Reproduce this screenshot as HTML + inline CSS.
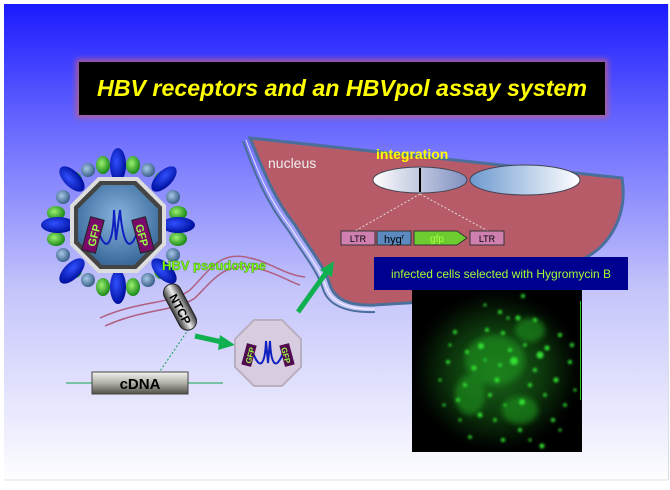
<!DOCTYPE html>
<html><head><meta charset="utf-8"><style>
html,body{margin:0;padding:0;width:670px;height:490px;overflow:hidden;background:#fff;font-family:"Liberation Sans",sans-serif}
</style></head><body>
<svg width="670" height="490" viewBox="0 0 670 490" xmlns="http://www.w3.org/2000/svg">
<defs>
<linearGradient id="bg" x1="0" y1="0" x2="0" y2="1">
<stop offset="0" stop-color="#1a1aff"/><stop offset="0.25" stop-color="#6666ff"/><stop offset="0.6" stop-color="#c4c4fb"/><stop offset="1" stop-color="#fdfdff"/></linearGradient>
<filter id="glow" x="-10%" y="-30%" width="120%" height="160%"><feGaussianBlur stdDeviation="3"/></filter>
<filter id="blur1"><feGaussianBlur stdDeviation="1.2"/></filter>
<filter id="blur3"><feGaussianBlur stdDeviation="3"/></filter>
<linearGradient id="ell1" x1="0" y1="0" x2="1" y2="0"><stop offset="0" stop-color="#fff"/><stop offset="1" stop-color="#7f8fc0"/></linearGradient>
<linearGradient id="ell2" x1="0" y1="0" x2="1" y2="0"><stop offset="0" stop-color="#6e9ad0"/><stop offset="1" stop-color="#fff"/></linearGradient>
<radialGradient id="oct" cx="0.5" cy="0.4" r="0.6"><stop offset="0" stop-color="#8ab4e0"/><stop offset="1" stop-color="#3a6a9a"/></radialGradient>
<radialGradient id="blueE" cx="0.4" cy="0.4" r="0.6"><stop offset="0" stop-color="#3050ff"/><stop offset="1" stop-color="#0010a0"/></radialGradient>
<radialGradient id="greenE" cx="0.4" cy="0.4" r="0.6"><stop offset="0" stop-color="#9cf070"/><stop offset="1" stop-color="#1a8a1a"/></radialGradient>
<radialGradient id="sph" cx="0.4" cy="0.4" r="0.6"><stop offset="0" stop-color="#a8c8e8"/><stop offset="1" stop-color="#3a6088"/></radialGradient>
<linearGradient id="cdna" x1="0" y1="0" x2="0" y2="1"><stop offset="0" stop-color="#f4f4f0"/><stop offset="0.5" stop-color="#b0b0a8"/><stop offset="1" stop-color="#505048"/></linearGradient>
<linearGradient id="ntcp" x1="0" y1="0" x2="0" y2="1"><stop offset="0" stop-color="#333"/><stop offset="0.5" stop-color="#eee"/><stop offset="1" stop-color="#333"/></linearGradient>
<radialGradient id="cells" cx="0.5" cy="0.5" r="0.5"><stop offset="0" stop-color="#1c6a1c"/><stop offset="0.55" stop-color="#0c360c"/><stop offset="0.9" stop-color="#020802"/><stop offset="1" stop-color="#000"/></radialGradient>
</defs>
<rect x="0" y="0" width="670" height="490" fill="#fff"/>
<rect x="4" y="4" width="664" height="475" fill="url(#bg)"/>
<line x1="4" y1="480" x2="668" y2="480" stroke="#ddd"/>
<line x1="668.5" y1="4" x2="668.5" y2="480" stroke="#ddd"/>
<!-- title -->
<rect x="76" y="59" width="532" height="59" fill="#c06080" opacity="0.8" filter="url(#glow)"/>
<rect x="79" y="62" width="526" height="53" fill="#000"/>
<text x="342" y="96" text-anchor="middle" font-size="23" font-style="italic" font-weight="bold" fill="#ffff00" textLength="490" lengthAdjust="spacingAndGlyphs">HBV receptors and an HBVpol assay system</text>
<!-- nucleus -->
<path d="M250,138 L622,178 C628,215 610,245 585,258 C560,272 540,285 510,292 C470,300 420,302 375,305 C350,306 335,300 330,285 C324,265 310,250 295,225 C275,200 265,175 250,138 Z" fill="#b85b68" stroke="#4a6f9a" stroke-width="3"/>
<path d="M246,140 C260,178 271,202 291,228 C306,252 320,268 326,287 C331,302 348,310 375,309" fill="none" stroke="#fff" stroke-width="1" opacity="0.8"/>
<path d="M243,141 C257,180 268,204 288,230 C303,254 317,270 323,289 C328,305 346,313 375,312" fill="none" stroke="#4a6f9a" stroke-width="2"/>
<text x="268" y="168" font-size="14" fill="#eee">nucleus</text>
<text x="376" y="159" font-size="14" font-weight="bold" fill="#ffff00">integration</text>
<ellipse cx="420" cy="180" rx="47" ry="13" fill="url(#ell1)" stroke="#445" stroke-width="1"/>
<ellipse cx="525" cy="180" rx="55" ry="15" fill="url(#ell2)" stroke="#445" stroke-width="1"/>
<line x1="420" y1="168" x2="420" y2="192" stroke="#000" stroke-width="2"/>
<line x1="420" y1="194" x2="355" y2="231" stroke="#ddd" stroke-dasharray="2,2"/>
<line x1="420" y1="194" x2="488" y2="231" stroke="#ddd" stroke-dasharray="2,2"/>
<rect x="341" y="231" width="34" height="14" fill="#d080b0" stroke="#333"/>
<text x="358" y="242" text-anchor="middle" font-size="9" fill="#000">LTR</text>
<rect x="377" y="231" width="34" height="14" fill="#5a8ac0" stroke="#333"/>
<text x="394" y="243" text-anchor="middle" font-size="11" fill="#000">hyg<tspan font-size="7" dy="-4">r</tspan></text>
<path d="M414,231 L457,231 L467,238 L457,245 L414,245 Z" fill="#6ccc30" stroke="#333"/>
<text x="437" y="242" text-anchor="middle" font-size="10" fill="#b0ff40">gfp</text>
<rect x="470" y="231" width="34" height="14" fill="#d080b0" stroke="#333"/>
<text x="487" y="242" text-anchor="middle" font-size="9" fill="#000">LTR</text>
<!-- banner -->
<rect x="374" y="257" width="254" height="33" fill="#000090"/>
<text x="501" y="278" text-anchor="middle" font-size="12" fill="#a0ff30">infected cells selected with Hygromycin B</text>
<!-- cell image -->
<rect x="412" y="290" width="170" height="162" fill="url(#cells)"/>
<g fill="#1a8a1a" filter="url(#blur3)" opacity="0.7">
<ellipse cx="495" cy="360" rx="30" ry="25"/><ellipse cx="470" cy="395" rx="15" ry="20"/><ellipse cx="530" cy="330" rx="15" ry="12"/><ellipse cx="520" cy="410" rx="18" ry="14"/></g>
<line x1="580.5" y1="301" x2="580.5" y2="400" stroke="#20c020"/>
<g fill="#30e030" filter="url(#blur1)">
<circle cx="514" cy="361" r="4"/><circle cx="481" cy="346" r="3"/><circle cx="540" cy="355" r="3.5"/><circle cx="547" cy="348" r="2.5"/><circle cx="522" cy="402" r="3"/><circle cx="474" cy="368" r="2.5"/><circle cx="465" cy="385" r="2"/><circle cx="480" cy="415" r="2.5"/><circle cx="556" cy="380" r="2.5"/><circle cx="553" cy="420" r="2"/><circle cx="542" cy="446" r="2.5"/><circle cx="500" cy="312" r="2"/><circle cx="518" cy="318" r="2.5"/><circle cx="535" cy="320" r="2"/><circle cx="503" cy="333" r="2"/><circle cx="455" cy="332" r="2"/><circle cx="467" cy="352" r="2"/><circle cx="497" cy="380" r="2.5"/><circle cx="530" cy="385" r="2"/><circle cx="570" cy="362" r="2"/><circle cx="572" cy="345" r="2"/><circle cx="490" cy="395" r="2"/><circle cx="448" cy="362" r="2"/><circle cx="458" cy="400" r="2"/><circle cx="520" cy="430" r="2"/><circle cx="503" cy="440" r="2"/><circle cx="565" cy="405" r="1.8"/><circle cx="440" cy="380" r="1.5"/><circle cx="560" cy="335" r="2"/><circle cx="523" cy="296" r="2"/><circle cx="487" cy="330" r="2"/><circle cx="535" cy="370" r="2"/><circle cx="510" cy="350" r="2"/><circle cx="545" cy="395" r="1.8"/><circle cx="495" cy="420" r="1.8"/><circle cx="470" cy="437" r="1.8"/>
<circle cx="508" cy="318" r="1.5"/><circle cx="485" cy="305" r="1.5"/><circle cx="450" cy="345" r="1.5"/><circle cx="444" cy="405" r="1.5"/><circle cx="460" cy="420" r="1.5"/><circle cx="530" cy="440" r="1.5"/><circle cx="560" cy="430" r="1.5"/><circle cx="575" cy="390" r="1.5"/><circle cx="500" cy="365" r="1.8"/><circle cx="525" cy="345" r="1.8"/><circle cx="485" cy="360" r="1.5"/><circle cx="505" cy="405" r="1.5"/></g>
<!-- arrows -->
<path d="M298,312 L328,270" stroke="#10b050" stroke-width="5"/><path d="M334,261 L320,270 L332,277 Z" fill="#10b050"/>
<path d="M195,336 L222,342" stroke="#10b050" stroke-width="5"/><path d="M235,345 L220,335 L218,350 Z" fill="#10b050"/>
<!-- pink curves -->
<g fill="none" stroke="#b06080" stroke-width="1.5">
<path d="M100,318 C140,300 170,305 190,290 C210,270 220,250 250,258 C270,262 285,275 305,277"/>
<path d="M105,326 C145,308 175,312 195,298 C215,278 225,262 255,268 C275,272 290,282 300,285"/>
</g>
<!-- cDNA -->
<line x1="66" y1="383" x2="223" y2="383" stroke="#10a050"/>
<line x1="156" y1="377" x2="188" y2="330" stroke="#10a050" stroke-dasharray="2,2"/>
<rect x="92" y="372" width="96" height="22" fill="url(#cdna)" stroke="#444"/>
<text x="140" y="389" text-anchor="middle" font-size="15" font-weight="bold" fill="#000">cDNA</text>
<!-- NTCP -->
<g transform="translate(180,307) rotate(62)">
<rect x="-25" y="-9" width="50" height="18" rx="9" fill="url(#ntcp)" stroke="#222"/>
<text x="2" y="5" text-anchor="middle" font-size="12" font-weight="bold" fill="#000">NTCP</text>
</g>
<!-- virus -->
<g transform="translate(118,225)">
<g fill="url(#sph)">
<circle cx="30" cy="-55" r="7"/><circle cx="55" cy="-28" r="7"/><circle cx="55" cy="30" r="7"/><circle cx="30" cy="55" r="7"/><circle cx="-30" cy="55" r="7"/><circle cx="-55" cy="30" r="7"/><circle cx="-55" cy="-28" r="7"/><circle cx="-30" cy="-55" r="7"/></g>
<g fill="url(#greenE)">
<ellipse cx="15" cy="-60" rx="7" ry="9"/><ellipse cx="60" cy="-12" rx="9" ry="7"/><ellipse cx="60" cy="14" rx="9" ry="7"/><ellipse cx="15" cy="62" rx="7" ry="9"/><ellipse cx="-15" cy="62" rx="7" ry="9"/><ellipse cx="-62" cy="14" rx="9" ry="7"/><ellipse cx="-62" cy="-12" rx="9" ry="7"/><ellipse cx="-15" cy="-60" rx="7" ry="9"/>
<ellipse cx="43" cy="-45" rx="7" ry="8"/><ellipse cx="-43" cy="45" rx="7" ry="8"/><ellipse cx="43" cy="46" rx="7" ry="8"/><ellipse cx="-43" cy="-45" rx="7" ry="8"/></g>
<g fill="url(#blueE)">
<ellipse cx="0" cy="-60" rx="8" ry="17"/><ellipse cx="0" cy="62" rx="8" ry="17"/><ellipse cx="-60" cy="0" rx="17" ry="8"/><ellipse cx="60" cy="0" rx="17" ry="8"/>
<ellipse cx="-46" cy="-46" rx="8" ry="16" transform="rotate(-45 -46 -46)"/><ellipse cx="46" cy="-46" rx="8" ry="16" transform="rotate(45 46 -46)"/><ellipse cx="-46" cy="46" rx="8" ry="16" transform="rotate(45 -46 46)"/><ellipse cx="46" cy="46" rx="8" ry="16" transform="rotate(-45 46 46)"/></g>
<polygon points="-19,-46 19,-46 46,-19 46,19 19,46 -19,46 -46,19 -46,-19" fill="#444" stroke="#ddd" stroke-width="4"/>
<polygon points="-16,-40 16,-40 40,-16 40,16 16,40 -16,40 -40,16 -40,-16" fill="url(#oct)"/>
<path d="M-20,5 C-12,30 -5,20 -4,-15 L-2,15 L2,-15 C5,20 12,30 20,5" fill="none" stroke="#1020c0" stroke-width="2"/>
<g transform="translate(-25,10) rotate(-75)"><rect x="-17" y="-7" width="34" height="14" fill="#7a0a6a" stroke="#222"/><text x="0" y="5" text-anchor="middle" font-size="11" font-weight="bold" fill="#9f4">GFP</text></g>
<g transform="translate(25,10) rotate(75)"><rect x="-17" y="-7" width="34" height="14" fill="#7a0a6a" stroke="#222"/><text x="0" y="5" text-anchor="middle" font-size="11" font-weight="bold" fill="#9f4">GFP</text></g>
</g>
<text x="162" y="270" font-size="13" font-weight="bold" fill="#80ff10" stroke="#3a8a10" stroke-width="0.4">HBV pseudotype</text>
<!-- small octagon -->
<g transform="translate(268,353)">
<polygon points="-14,-33 14,-33 33,-14 33,14 14,33 -14,33 -33,14 -33,-14" fill="#d8cce0" stroke="#b8b0c0" stroke-width="2"/>
<path d="M-15,0 C-8,18 -3,12 -2,-12 L0,10 L2,-12 C3,12 8,18 15,0" fill="none" stroke="#1020c0" stroke-width="2"/>
<g transform="translate(-19,2) rotate(-75)"><rect x="-11" y="-5" width="22" height="10" fill="#500a50"/><text x="0" y="4" text-anchor="middle" font-size="8" font-weight="bold" fill="#9f4">GFP</text></g>
<g transform="translate(19,2) rotate(75)"><rect x="-11" y="-5" width="22" height="10" fill="#500a50"/><text x="0" y="4" text-anchor="middle" font-size="8" font-weight="bold" fill="#9f4">GFP</text></g>
</g>
</svg>
</body></html>
